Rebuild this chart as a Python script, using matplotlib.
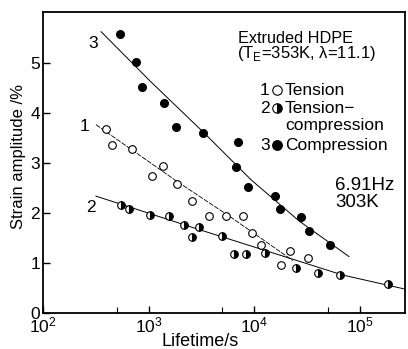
import numpy as np
import matplotlib
matplotlib.use("Agg")
import matplotlib.pyplot as plt
from matplotlib.ticker import LogLocator, FixedLocator, NullFormatter

plt.rcParams['font.family'] = ['Liberation Sans', 'DejaVu Sans']
plt.rcParams['mathtext.fontset'] = 'custom'
plt.rcParams['mathtext.rm'] = 'Liberation Sans'

# 1: tension (open circles)
t_life = [397, 454, 692, 1069, 1366, 1873, 2570, 3720, 5420, 7840, 9640, 11500, 17800, 22000, 32600]
t_amp = [3.69, 3.37, 3.28, 2.75, 2.95, 2.59, 2.25, 1.95, 1.94, 1.95, 1.61, 1.37, 0.97, 1.24, 1.10]
t_fit_life = [318, 1873, 6100, 23200]
t_fit_amp = [3.77, 2.63, 1.91, 1.05]

# 2: tension-compression (half filled)
tc_life = [555, 656, 1038, 1557, 2170, 2570, 3000, 4960, 6480, 8440, 12600, 24800, 40100, 65600, 185000]
tc_amp = [2.16, 2.09, 1.97, 1.95, 1.76, 1.53, 1.72, 1.54, 1.18, 1.18, 1.20, 0.90, 0.80, 0.76, 0.58]
tc_fit_life = [318, 2920, 69000, 267000]
tc_fit_amp = [2.34, 1.68, 0.76, 0.48]

# 3: compression (filled)
c_life = [535, 760, 869, 1394, 1803, 3300, 6970, 6710, 8690, 15700, 17400, 27700, 32800, 52600]
c_amp = [5.58, 5.03, 4.52, 4.20, 3.72, 3.61, 3.43, 2.93, 2.53, 2.34, 2.09, 1.93, 1.64, 1.37]
c_fit_life = [356, 1038, 3300, 9420, 26700, 79000]
c_fit_amp = [5.63, 4.64, 3.62, 2.66, 1.84, 1.13]

fig = plt.figure(figsize=(4.08, 3.49), dpi=100)
ax = fig.add_axes([0.105, 0.103, 0.887, 0.862])

ax.plot(c_fit_life, c_fit_amp, color='black', lw=0.7)
ax.plot(t_fit_life, t_fit_amp, color='black', lw=0.6, ls=(0, (6, 1.5)))
ax.plot(tc_fit_life, tc_fit_amp, color='black', lw=0.7)

ms = 5.5
open_kw = dict(marker='o', ls='none', mfc='white', mec='black', mew=0.8)
half_kw = dict(marker='o', ls='none', mfc='black', mfcalt='white', fillstyle='right',
               mec='black', mew=0.8)
full_kw = dict(marker='o', ls='none', mfc='black', mec='black')
ax.plot(t_life, t_amp, ms=ms, **open_kw)
ax.plot(tc_life, tc_amp, ms=ms, **half_kw)
ax.plot(c_life, c_amp, ms=ms, **full_kw)

ax.set_xscale('log')
ax.set_xlim(100, 2.66e5)
ax.set_ylim(0, 6.02)
ax.xaxis.set_major_locator(LogLocator(base=10, numticks=10))
ax.xaxis.set_minor_locator(FixedLocator([500, 5000, 50000]))
ax.xaxis.set_minor_formatter(NullFormatter())
ax.set_yticks([0, 1, 2, 3, 4, 5])
ax.tick_params(direction='in', labelsize=12.5, length=5, width=1, pad=2)
ax.tick_params(which='minor', direction='in', length=4, width=0.8)
for s in ax.spines.values():
    s.set_linewidth(1.3)

ax.set_xlabel('Lifetime/s', fontsize=13, ha='left', va='center')
ax.set_ylabel('Strain amplitude /%', fontsize=12, va='center')
ax.xaxis.set_label_coords(0.329, -0.096)
ax.yaxis.set_label_coords(-0.066, 0.52)

ax.text(297, 5.40, '3', fontsize=12.5, ha='center', va='center')
ax.text(250, 3.74, '1', fontsize=12.5, ha='center', va='center')
ax.text(284, 2.12, '2', fontsize=12.5, ha='center', va='center')

kw = dict(transform=ax.transAxes, ha='left', va='center')
ax.text(0.539, 0.914, 'Extruded HDPE', fontsize=11.7, **kw)
ax.text(0.536, 0.864, '(T$_\\mathrm{E}$=353K, λ=11.1)', fontsize=12, **kw)

rows_y = [0.741, 0.681, 0.558]
rows_num = ['1', '2', '3']
rows_name = ['Tension', 'Tension−', 'Compression']
rows_kw = [open_kw, half_kw, full_kw]
for y, n, name, mk in zip(rows_y, rows_num, rows_name, rows_kw):
    ax.text(0.613, y, n, fontsize=12.5, transform=ax.transAxes, ha='center', va='center')
    ax.plot([0.646], [y], transform=ax.transAxes, ms=6.8, clip_on=False, **mk)
    ax.text(0.669, y, name, fontsize=12.5, **kw)
ax.text(0.669, 0.625, 'compression', fontsize=12.5, **kw)

ax.text(0.807, 0.425, '6.91Hz', fontsize=13.5, **kw)
ax.text(0.807, 0.369, '303K', fontsize=13.5, **kw)

fig.savefig('out.png', dpi=100)
